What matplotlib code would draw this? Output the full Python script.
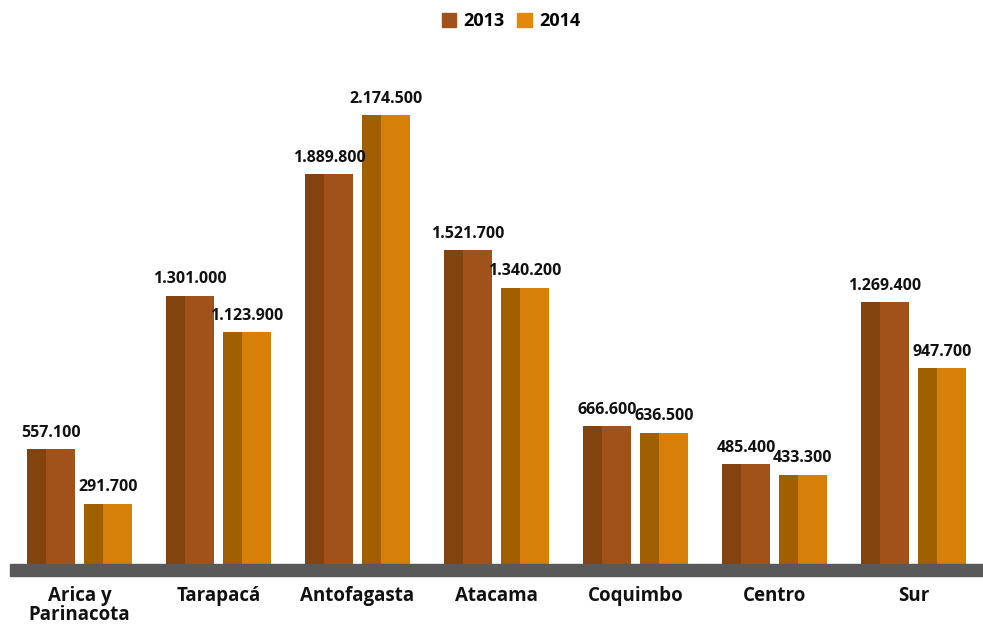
import matplotlib
matplotlib.use("Agg")
import matplotlib.pyplot as plt
from matplotlib.patches import Rectangle
import numpy as np

plt.rcParams['font.family'] = ['Open Sans', 'DejaVu Sans']

regions = ["Arica y\nParinacota", "Tarapacá", "Antofagasta", "Atacama",
           "Coquimbo", "Centro", "Sur"]
values_2013 = [557100, 1301000, 1889800, 1521700, 666600, 485400, 1269400]
values_2014 = [291700, 1123900, 2174500, 1340200, 636500, 433300, 947700]
series_labels = ["2013", "2014"]

face_2013, shade_2013 = "#A1521A", "#82430F"
face_2014, shade_2014 = "#D67F09", "#A06002"
legend_2013, legend_2014 = "#A1521B", "#E2880B"


def fmt(v):
    return f"{v:,}".replace(",", ".")


W, H = 983, 624
fig = plt.figure(figsize=(W / 100, H / 100), dpi=100)
ax = fig.add_axes([10 / W, (H - 564) / H, (W - 10) / W, (564 - 40) / H])

x = np.arange(len(regions))
bw = 0.34
off = 0.205
shade_frac = 0.4

for vals, sign, face, shade in [(values_2013, -1, face_2013, shade_2013),
                                (values_2014, 1, face_2014, shade_2014)]:
    pos = x + sign * off
    ax.bar(pos, vals, width=bw, color=face, linewidth=0)
    ax.bar(pos - bw / 2, vals, width=bw * shade_frac, align="edge",
           color=shade, linewidth=0)
    for p, v in zip(pos, vals):
        ax.annotate(fmt(v), (p, v), xytext=(0, 6), textcoords="offset points",
                    ha="center", va="bottom", fontsize=11.5,
                    fontweight="bold", color="#111111")

ax.set_xlim(-0.5, len(regions) - 0.5)
ax.set_ylim(0, 2540000)
ax.axis("off")

# grey floor band under the bars
fig.patches.append(Rectangle((10 / W, (H - 576) / H), (W - 10) / W, 12 / H,
                             transform=fig.transFigure, color="#595959",
                             zorder=0))

# category labels
for xi, name in zip(x, regions):
    xf = fig.transFigure.inverted().transform(ax.transData.transform((xi, 0)))[0]
    fig.text(xf, (H - 586) / H, name, ha="center", va="top", fontsize=13.5,
             fontweight="bold", color="#111111", linespacing=0.95)

# legend
handles = [Rectangle((0, 0), 1, 1, color=legend_2013),
           Rectangle((0, 0), 1, 1, color=legend_2014)]
fig.legend(handles, series_labels, loc="center", bbox_to_anchor=(511 / W, (H - 21) / H),
           ncol=2, frameon=False, handlelength=0.8, handleheight=0.8,
           handletextpad=0.4, columnspacing=0.7,
           prop={"weight": "bold", "size": 13})

fig.savefig("out.png", dpi=100)
